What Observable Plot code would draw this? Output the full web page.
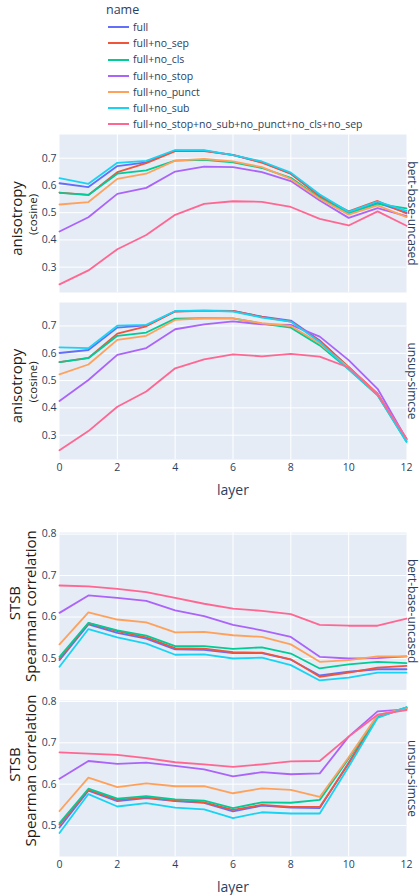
<!DOCTYPE html>
<html><head><meta charset="utf-8">
<script src="https://cdn.jsdelivr.net/npm/d3@7"></script>
<script src="https://cdn.jsdelivr.net/npm/@observablehq/plot@0.6"></script>
<style>
body{margin:0;background:#fff;font-family:"Open Sans",sans-serif;}
#root{position:relative;width:420px;height:895px;overflow:hidden;background:#fff;}
.panel{position:absolute;left:0;}
.panel svg{overflow:visible;}
#legend{position:absolute;left:0;top:0;width:420px;height:135px;color:#2a3f5f;}
.lt{position:absolute;left:106px;top:1px;font-size:12.5px;line-height:18px;}
.li{position:absolute;left:108px;height:16px;font-size:10.5px;line-height:16px;white-space:nowrap;}
.li span.sw{display:inline-block;width:21px;height:2px;vertical-align:middle;margin-right:4px;position:relative;top:-1px;}
</style></head><body><div id="root"><div id="legend"></div></div>
<script>
// ---- data ----
const layers = [0, 1, 2, 3, 4, 5, 6, 7, 8, 9, 10, 11, 12];
const names = ["full", "full+no_sep", "full+no_cls", "full+no_stop", "full+no_punct", "full+no_sub", "full+no_stop+no_sub+no_punct+no_cls+no_sep"];
const colors = ["#636efa", "#EF553B", "#00cc96", "#ab63fa", "#FFA15A", "#19d3f3", "#FF6692"];
const models = ["bert-base-uncased", "unsup-simcse"];
const anisoTicks = [0.3, 0.4, 0.5, 0.6, 0.7];
const stsbTicks = [0.5, 0.6, 0.7, 0.8];
const xTicks = [0, 2, 4, 6, 8, 10, 12];

// anisotropy (cosine), bert-base-uncased — rows in `names` order
const anisoBert = [
  [0.608, 0.594, 0.671, 0.685, 0.728, 0.728, 0.711, 0.685, 0.643, 0.563, 0.498, 0.536, 0.500],
  [0.574, 0.565, 0.649, 0.682, 0.726, 0.726, 0.712, 0.684, 0.643, 0.559, 0.505, 0.543, 0.497],
  [0.573, 0.565, 0.643, 0.655, 0.691, 0.694, 0.685, 0.664, 0.628, 0.554, 0.498, 0.532, 0.516],
  [0.431, 0.483, 0.569, 0.591, 0.651, 0.669, 0.667, 0.649, 0.616, 0.545, 0.481, 0.517, 0.487],
  [0.530, 0.539, 0.624, 0.643, 0.691, 0.697, 0.688, 0.667, 0.624, 0.551, 0.493, 0.527, 0.484],
  [0.627, 0.606, 0.683, 0.690, 0.730, 0.730, 0.711, 0.688, 0.647, 0.567, 0.503, 0.541, 0.507],
  [0.237, 0.288, 0.366, 0.418, 0.492, 0.532, 0.542, 0.540, 0.521, 0.477, 0.453, 0.505, 0.452]
];
// anisotropy (cosine), unsup-simcse
const anisoSimcse = [
  [0.601, 0.612, 0.694, 0.702, 0.754, 0.756, 0.755, 0.734, 0.720, 0.647, 0.548, 0.450, 0.282],
  [0.568, 0.583, 0.672, 0.699, 0.753, 0.755, 0.755, 0.733, 0.716, 0.645, 0.550, 0.452, 0.285],
  [0.568, 0.582, 0.664, 0.676, 0.727, 0.729, 0.728, 0.709, 0.694, 0.629, 0.541, 0.446, 0.276],
  [0.425, 0.502, 0.594, 0.619, 0.688, 0.706, 0.717, 0.706, 0.704, 0.661, 0.575, 0.470, 0.285],
  [0.523, 0.559, 0.649, 0.664, 0.722, 0.728, 0.728, 0.710, 0.700, 0.636, 0.547, 0.450, 0.285],
  [0.622, 0.619, 0.701, 0.704, 0.755, 0.756, 0.753, 0.731, 0.716, 0.641, 0.541, 0.447, 0.276],
  [0.245, 0.315, 0.404, 0.460, 0.545, 0.578, 0.596, 0.589, 0.598, 0.588, 0.548, 0.449, 0.288]
];
// STSB Spearman correlation, bert-base-uncased
const stsbBert = [
  [0.496, 0.582, 0.562, 0.548, 0.522, 0.521, 0.513, 0.513, 0.497, 0.459, 0.468, 0.474, 0.474],
  [0.500, 0.585, 0.566, 0.551, 0.525, 0.524, 0.515, 0.514, 0.498, 0.456, 0.466, 0.478, 0.482],
  [0.504, 0.586, 0.568, 0.555, 0.530, 0.530, 0.523, 0.527, 0.512, 0.476, 0.486, 0.492, 0.489],
  [0.610, 0.652, 0.646, 0.639, 0.616, 0.602, 0.581, 0.568, 0.552, 0.504, 0.500, 0.501, 0.505],
  [0.534, 0.611, 0.594, 0.587, 0.563, 0.564, 0.556, 0.552, 0.534, 0.492, 0.496, 0.505, 0.505],
  [0.480, 0.571, 0.551, 0.536, 0.509, 0.510, 0.500, 0.502, 0.484, 0.447, 0.454, 0.466, 0.466],
  [0.676, 0.674, 0.668, 0.660, 0.646, 0.632, 0.620, 0.615, 0.607, 0.581, 0.579, 0.579, 0.596]
];
// STSB Spearman correlation, unsup-simcse
const stsbSimcse = [
  [0.495, 0.584, 0.559, 0.566, 0.559, 0.555, 0.534, 0.548, 0.543, 0.542, 0.652, 0.765, 0.784],
  [0.502, 0.586, 0.562, 0.568, 0.560, 0.556, 0.538, 0.550, 0.545, 0.545, 0.650, 0.763, 0.784],
  [0.506, 0.589, 0.565, 0.571, 0.563, 0.560, 0.542, 0.556, 0.555, 0.562, 0.662, 0.764, 0.786],
  [0.613, 0.656, 0.649, 0.652, 0.644, 0.636, 0.619, 0.629, 0.624, 0.626, 0.715, 0.776, 0.781],
  [0.535, 0.616, 0.593, 0.602, 0.595, 0.595, 0.578, 0.590, 0.586, 0.569, 0.665, 0.767, 0.784],
  [0.482, 0.576, 0.546, 0.554, 0.543, 0.539, 0.518, 0.532, 0.529, 0.529, 0.642, 0.760, 0.786],
  [0.677, 0.674, 0.671, 0.663, 0.653, 0.648, 0.642, 0.648, 0.655, 0.656, 0.715, 0.768, 0.779]
];

// ---- drawing ----
const root = document.getElementById("root");
const TICK = "#2a3f5f";
const MT = 2, ML = 59, MR = 14;

function toRows(vals) {
  const rows = [];
  vals.forEach((arr, i) => arr.forEach((v, j) => rows.push({name: names[i], layer: layers[j], value: v})));
  return rows;
}

function panel(vals, cfg) {
  const mb = cfg.xAxis ? 42 : 2;
  const marks = [
    Plot.frame({fill: "#E5ECF6", stroke: "none"}),
    Plot.gridX([2, 4, 6, 8, 10], {stroke: "white", strokeOpacity: 1, strokeWidth: 1}),
    Plot.gridY(cfg.ticks, {stroke: "white", strokeOpacity: 1, strokeWidth: 1}),
    Plot.axisY(cfg.ticks, {tickSize: 0, tickPadding: 3, tickFormat: d3.format(".1f"), fontSize: 10.5, fill: TICK, label: null}),
    Plot.line(toRows(vals), {x: "layer", y: "value", stroke: "name", z: "name", strokeWidth: 1.8}),
    Plot.text([cfg.facet], {text: d => d, frameAnchor: "right", dx: 5.5, rotate: 90, fontSize: 12, fill: TICK, lineAnchor: "middle", textAnchor: "middle"})
  ];
  cfg.titles.forEach(t => marks.push(
    Plot.text([t.text], {text: d => d, frameAnchor: "left", dx: t.x - ML, dy: t.dy, rotate: -90, fontSize: t.size, fill: "#1b1b1b", lineAnchor: "middle", textAnchor: "middle"})
  ));
  if (cfg.xAxis) {
    marks.push(Plot.axisX(xTicks, {tickSize: 0, tickPadding: 4, fontSize: 10.5, fill: TICK, label: null}));
    marks.push(Plot.text(["layer"], {text: d => d, frameAnchor: "bottom", dy: 31, fontSize: 14, fill: TICK, lineAnchor: "middle"}));
  }
  const svg = Plot.plot({
    width: 420,
    height: cfg.h + MT + mb,
    marginTop: MT, marginBottom: mb, marginLeft: ML, marginRight: MR,
    style: {background: "transparent", fontFamily: "'Open Sans', sans-serif", color: TICK, overflow: "visible"},
    x: {domain: [0, 12], axis: null},
    y: {domain: cfg.domain, axis: null},
    color: {domain: names, range: colors},
    marks
  });
  const div = document.createElement("div");
  div.className = "panel";
  div.style.top = (cfg.top - MT) + "px";
  div.appendChild(svg);
  root.appendChild(div);
}

const anisoTitles = [
  {text: "anisotropy", x: 17, dy: 5, size: 15},
  {text: "(cosine)", x: 33, dy: 1, size: 11.5}
];
panel(anisoBert, {top: 134, h: 158, domain: [0.207, 0.787], ticks: anisoTicks, facet: models[0], titles: anisoTitles, xAxis: false});
panel(anisoSimcse, {top: 301.5, h: 157, domain: [0.211, 0.786], ticks: anisoTicks, facet: models[1], titles: anisoTitles, xAxis: true});
panel(stsbBert, {top: 531.7, h: 157.3, domain: [0.4245, 0.8038], ticks: stsbTicks, facet: models[0],
  titles: [{text: "STSB", x: 15, dy: -8, size: 15}, {text: "Spearman correlation", x: 31, dy: -5, size: 15}], xAxis: false});
panel(stsbSimcse, {top: 700, h: 156, domain: [0.425, 0.8024], ticks: stsbTicks, facet: models[1],
  titles: [{text: "STSB", x: 15, dy: -14, size: 15}, {text: "Spearman correlation", x: 31, dy: -8, size: 15}], xAxis: true});

// legend
const lg = document.getElementById("legend");
const t = document.createElement("div");
t.className = "lt"; t.textContent = "name";
lg.appendChild(t);
names.forEach((n, i) => {
  const d = document.createElement("div");
  d.className = "li";
  d.style.top = (19 + i * 16.2) + "px";
  const sw = document.createElement("span");
  sw.className = "sw"; sw.style.background = colors[i];
  d.appendChild(sw);
  d.appendChild(document.createTextNode(n));
  lg.appendChild(d);
});
</script></body></html>
